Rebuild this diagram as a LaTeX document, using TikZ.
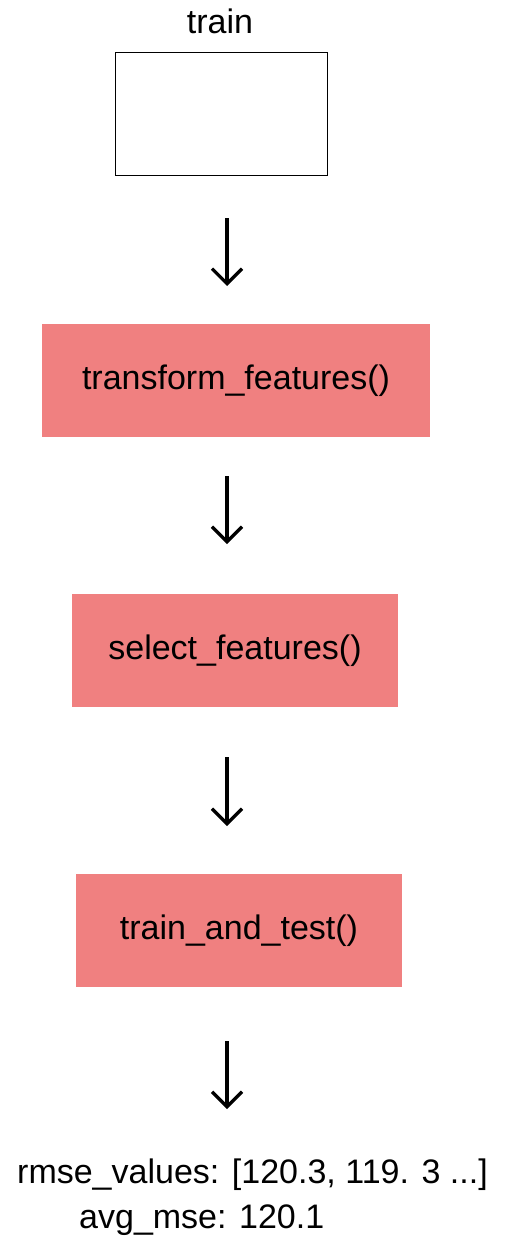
\documentclass[tikz,border=0pt]{standalone}
\usepackage{fontspec}
\setmainfont{Liberation Sans}
\usetikzlibrary{arrows.meta}
\definecolor{stepred}{HTML}{F08080}

\begin{document}
\begin{tikzpicture}[x=1pt,y=-1pt,
  stepbox/.style={fill=stepred,inner sep=0pt,font=\fontsize{34}{40}\selectfont},
  flow/.style={line width=3.2pt,-{Straight Barb[length=15pt,width=30pt]}},
  txt/.style={inner sep=0pt,font=\fontsize{34}{40}\selectfont}] %
    \useasboundingbox[fill=white] (0,0) rectangle (512,1252);
    \node[txt] (title) at (220,21) {train} ; %
    \node[draw,line width=1pt,minimum width=212pt,minimum height=123pt] (train) at (221,114.5) {} ; %
    \node[stepbox,minimum width=388pt,minimum height=113pt] (transform) at (236,380.5) {transform\_features()} ; %
    \node[stepbox,minimum width=326pt,minimum height=113pt] (select) at (235,650.5) {select\_features()} ; %
    \node[stepbox,minimum width=326pt,minimum height=113pt] (trainTest) at (239,930.5) {train\_and\_test()} ; %
    \node[txt,anchor=west] (rmse) at (17,1175) {rmse\_values: [120.3, 119. 3 ...]} ; %
    \node[txt,anchor=west] (avg) at (79,1220) {avg\_mse: 120.1} ; %
    \coordinate (a1) at (227,218) ; \coordinate (b1) at (227,286) ;
    \coordinate (a2) at (227,476) ; \coordinate (b2) at (227,544) ;
    \coordinate (a3) at (227,757) ; \coordinate (b3) at (227,826) ;
    \coordinate (a4) at (227,1041) ; \coordinate (b4) at (227,1109) ;
    \draw[flow] (a1)--(b1) ; %
    \draw[flow] (a2)--(b2) ;
    \draw[flow] (a3)--(b3) ;
    \draw[flow] (a4)--(b4) ;
  \end{tikzpicture}
\end{document}
